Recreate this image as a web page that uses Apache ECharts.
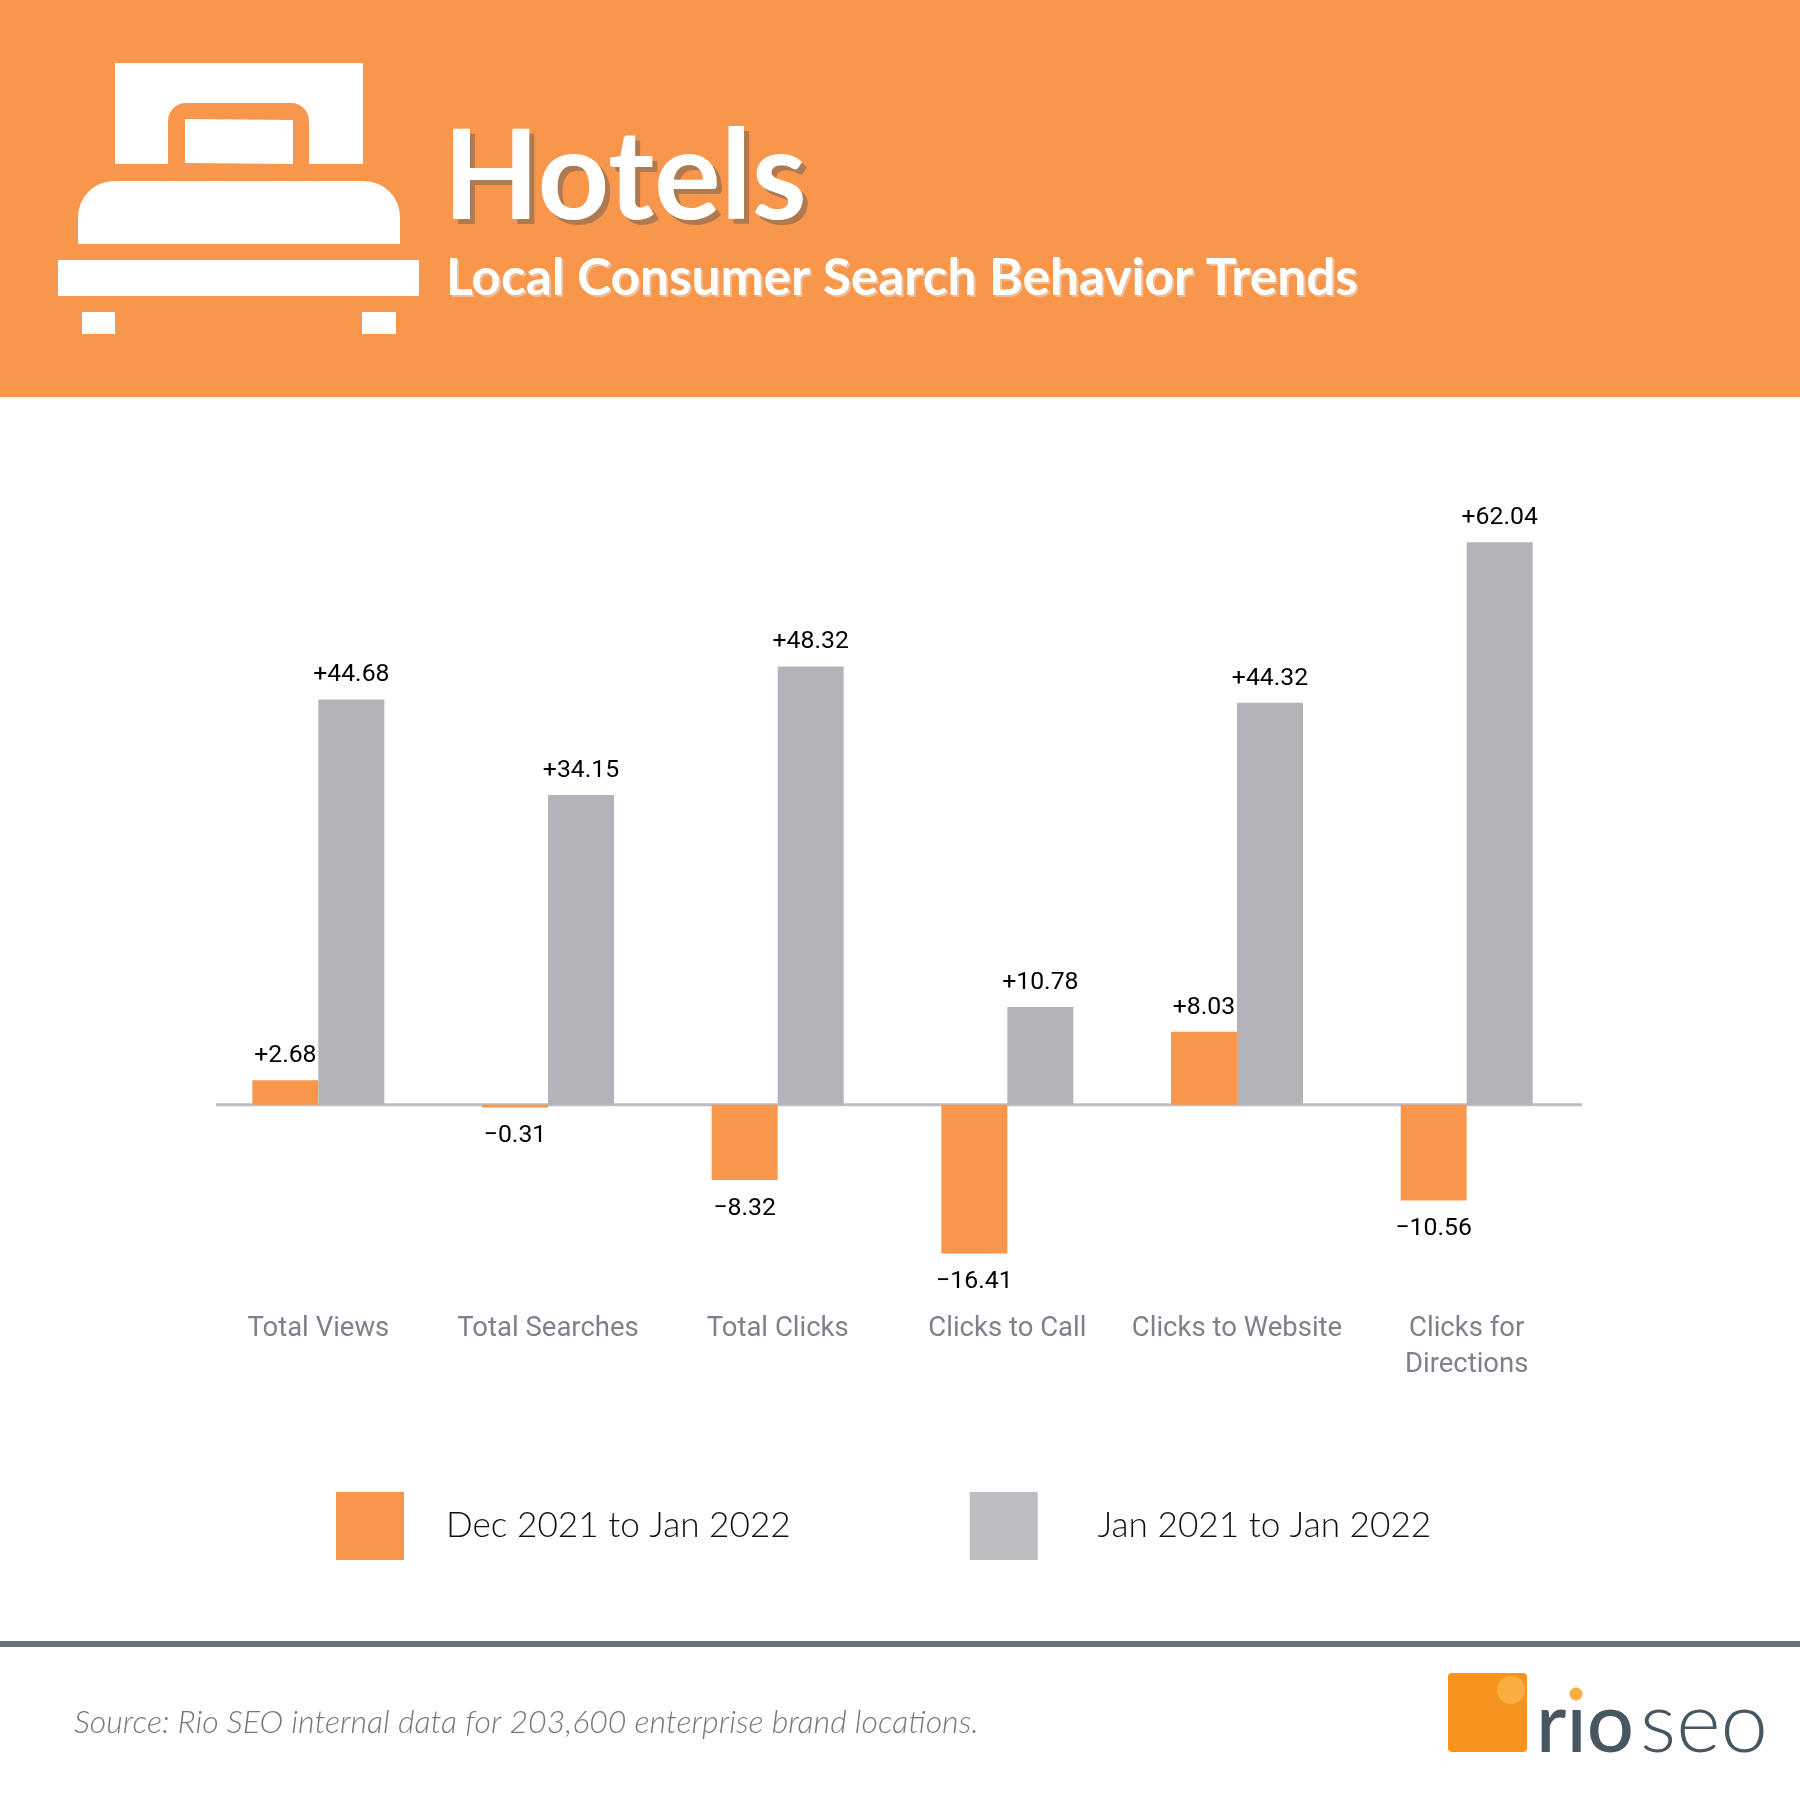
<!DOCTYPE html>
<html>
<head>
<meta charset="utf-8">
<title>Hotels</title>
<style>
  html, body { margin: 0; padding: 0; background: #fff; }
  #chart { width: 1800px; height: 1800px; }
</style>
<script src="https://cdn.jsdelivr.net/npm/echarts@6/dist/echarts.min.js"></script>
</head>
<body>
<div id="chart"></div>
<script>
const categories = ["Total Views", "Total Searches", "Total Clicks", "Clicks to Call", "Clicks to Website", "Clicks for\nDirections"];
const monthChange = [2.68, -0.31, -8.32, -16.41, 8.03, -10.56];
const yearChange = [44.68, 34.15, 48.32, 10.78, 44.32, 62.04];
const seriesNames = ["Dec 2021 to Jan 2022", "Jan 2021 to Jan 2022"];

const ORANGE = "#F8964B";
const GRAY = "#B3B4B9";

// +2.68 / −0.31
const fmt = (v) => (v < 0 ? "\u2212" : "+") + Math.abs(v).toFixed(2);

const barData = (values) =>
  values.map((v) => ({
    value: v,
    label: v < 0 ? { position: "bottom", distance: 16 } : { position: "top", distance: 12 },
  }));

const barSeries = (name, values, color) => ({
  name,
  type: "bar",
  barWidth: 66,
  barGap: 0,
  itemStyle: { color },
  label: {
    show: true,
    color: "#000",
    fontFamily: "Roboto",
    fontWeight: 400,
    fontSize: 24.8,
    formatter: (p) => fmt(p.value),
  },
  data: barData(values),
});

const rect = (x, y, width, height, fill, r) => ({
  type: "rect",
  shape: { x, y, width, height, r: r || 0 },
  style: { fill },
});

const text = (x, y, str, font, fill) => ({
  type: "text",
  x,
  y,
  style: { text: str, font, fill, align: "left", verticalAlign: "middle" },
});

// header: banner + bed icon + titles, footer: rule + source + logo
const decor = [
  rect(0, 0, 1800, 397, ORANGE),
  rect(115, 63, 248, 101, "#fff"),
  { type: "rect", shape: { x: 168, y: 103, width: 141, height: 80, r: [18, 18, 0, 0] }, style: { fill: ORANGE } },
  { type: "polygon", shape: { points: [[185, 119], [293, 120], [293, 164], [185, 163]] }, style: { fill: "#fff" } },
  rect(78, 181, 322, 63, "#fff", [36, 36, 0, 0]),
  rect(58, 260, 361, 36, "#fff"),
  rect(82, 312, 33, 22, "#fff"),
  rect(362, 312, 34, 22, "#fff"),
  text(448, 184, "Hotels", "700 125px Lato", "#B07A50"),
  text(443, 179, "Hotels", "700 125px Lato", "#fff"),
  text(448, 280, "Local Consumer Search Behavior Trends", "700 51.4px Lato", "#EFBE98"),
  text(446, 278, "Local Consumer Search Behavior Trends", "700 51.4px Lato", "#fff"),
  rect(0, 1641, 1800, 6, "#667280"),
  text(74, 1723, "Source: Rio SEO internal data for 203,600 enterprise brand locations.", "italic 300 32.1px Lato", "#74787D"),
  rect(1448, 1673, 79, 79, "#F7941D", 4),
  { type: "circle", shape: { cx: 1511, cy: 1690, r: 14 }, style: { fill: "#FBAE40" } },
  text(1536, 1725, "r\u0131o", "500 83px Lato", "#465762"),
  { type: "circle", shape: { cx: 1576, cy: 1694, r: 6.5 }, style: { fill: "#FBAE40" } },
  text(1640, 1725, "seo", "300 85px Lato", "#465762"),
];

const chart = echarts.init(document.getElementById("chart"), null, { renderer: "canvas" });

chart.setOption({
  backgroundColor: "#fff",
  animation: false,
  grid: { left: 203.5, width: 1378, top: 470, height: 816 },
  xAxis: {
    type: "category",
    data: categories,
    axisLine: { show: false, onZero: false },
    axisTick: { show: false },
    axisLabel: {
      margin: 25,
      interval: 0,
      color: "#7E808C",
      fontFamily: "Roboto",
      fontSize: 27.5,
      lineHeight: 36,
    },
  },
  yAxis: { type: "value", min: -20, max: 70, show: false, splitLine: { show: false } },
  legend: {
    left: 336,
    top: 1492,
    padding: 0,
    icon: "rect",
    itemWidth: 68,
    itemHeight: 68,
    itemGap: 179,
    selectedMode: false,
    // text sits a little above the middle of the square
    textStyle: { fontFamily: "Lato", fontWeight: 300, fontSize: 35.2, color: "#111", lineHeight: 7, verticalAlign: "bottom" },
    data: [
      { name: seriesNames[0], itemStyle: { color: ORANGE }, textStyle: { padding: [0, 0, 0, 37] } },
      { name: seriesNames[1], itemStyle: { color: "#BCBEC2" }, textStyle: { padding: [0, 0, 0, 55] } },
    ],
  },
  series: [barSeries(seriesNames[0], monthChange, ORANGE), barSeries(seriesNames[1], yearChange, GRAY)],
});

// the baseline is shorter than the grid, so it hangs off the y scale
const zeroY = chart.convertToPixel({ yAxisIndex: 0 }, 0);
chart.setOption({
  graphic: {
    elements: decor.concat([
      { type: "line", z: -1, shape: { x1: 216, y1: zeroY, x2: 1582, y2: zeroY }, style: { stroke: "#BDBEC4", lineWidth: 3 } },
    ]),
  },
});
</script>
</body>
</html>
